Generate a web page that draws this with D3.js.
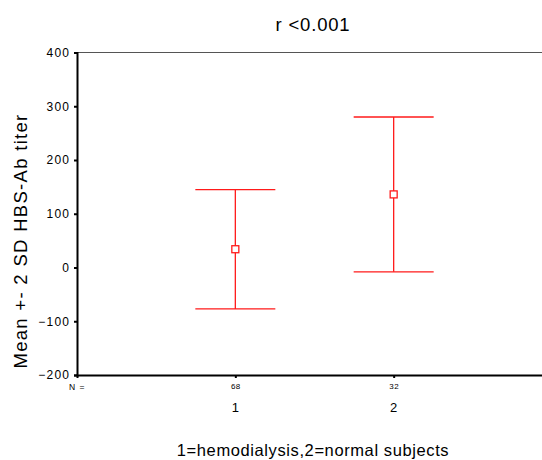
<!DOCTYPE html>
<html>
<head>
<meta charset="utf-8">
<script src="https://cdn.jsdelivr.net/npm/d3@7"></script>
<style>
  body { margin: 0; background: #fff; }
  svg { display: block; font-family: Arial, "Liberation Sans", sans-serif; }
</style>
</head>
<body>
<svg id="chart"></svg>
<script>
// groups, N per group, mean and +-2 SD limits
const groups = [1, 2];
const counts = [68, 32];
const means = [34, 136];
const upper = [145, 280];
const lower = [-77, -8];
const yTicks = [-200, -100, 0, 100, 200, 300, 400];

const W = 542, H = 460;
const margin = { top: 52.5, right: -10, bottom: 85, left: 77 };
const width = W - margin.left - margin.right;
const height = H - margin.top - margin.bottom;

const svg = d3.select('#chart').attr('width', W).attr('height', H);
const g = svg.append('g').attr('transform', `translate(${margin.left},${margin.top})`);

const x = d3.scaleLinear().domain([0, 3]).range([0, width]);
const y = d3.scaleLinear().domain([-200, 400]).range([height, 0]);

// frame: grey top line, black left and bottom axes
g.append('line').attr('x1', 0).attr('x2', width).attr('y1', 0).attr('y2', 0)
  .attr('stroke', '#555').attr('stroke-width', 1.2);

const yAxis = g.append('g')
  .call(d3.axisLeft(y).tickValues(yTicks).tickSize(3).tickPadding(5));
yAxis.select('.domain').attr('stroke', '#000').attr('stroke-width', 2);
yAxis.selectAll('.tick line').attr('stroke', '#000').attr('stroke-width', 2);
yAxis.selectAll('.tick text').attr('font-size', 12).attr('letter-spacing', 1.2)
  .attr('dx', 1.2).attr('fill', '#000');

const xAxis = g.append('g').attr('transform', `translate(0,${height})`)
  .call(d3.axisBottom(x).tickValues(groups).tickSize(3).tickFormat((d, i) => counts[i]).tickPadding(5));
xAxis.select('.domain').attr('stroke', '#000').attr('stroke-width', 2);
xAxis.selectAll('.tick line').attr('stroke', '#000').attr('stroke-width', 2);
xAxis.selectAll('.tick text').attr('font-size', 8).attr('letter-spacing', 0.5).attr('fill', '#000');

g.append('text').attr('x', -8).attr('y', height + 15)
  .attr('font-size', 8.5).attr('letter-spacing', 1).text('N =');

// category labels under the N row
g.selectAll('.cat').data(groups).enter().append('text')
  .attr('class', 'cat')
  .attr('x', d => x(d)).attr('y', height + 37)
  .attr('text-anchor', 'middle').attr('font-size', 13)
  .text(d => d);

// error bars
const cap = 40;
const red = '#ff1a1a';
groups.forEach((d, i) => {
  const cx = x(d);
  g.append('line').attr('x1', cx).attr('x2', cx)
    .attr('y1', y(upper[i])).attr('y2', y(lower[i]))
    .attr('stroke', red).attr('stroke-width', 1.3);
  [upper[i], lower[i]].forEach(v => {
    g.append('line').attr('x1', cx - cap).attr('x2', cx + cap)
      .attr('y1', y(v)).attr('y2', y(v))
      .attr('stroke', red).attr('stroke-width', 1.3);
  });
  g.append('rect').attr('x', cx - 3.5).attr('y', y(means[i]) - 3.5)
    .attr('width', 7).attr('height', 7)
    .attr('fill', '#fff').attr('stroke', red).attr('stroke-width', 1.3);
});

// titles
svg.append('text').attr('x', 313).attr('y', 31)
  .attr('text-anchor', 'middle').attr('font-size', 18.5).attr('letter-spacing', 0.8)
  .text('r <0.001');

svg.append('text').attr('x', 313).attr('y', 456)
  .attr('text-anchor', 'middle').attr('font-size', 16.5).attr('letter-spacing', 0.6)
  .text('1=hemodialysis,2=normal subjects');

svg.append('text')
  .attr('transform', 'translate(27,241) rotate(-90)')
  .attr('text-anchor', 'middle').attr('font-size', 18.5).attr('letter-spacing', 1.3)
  .text('Mean +- 2 SD HBS-Ab titer');
</script>
</body>
</html>
